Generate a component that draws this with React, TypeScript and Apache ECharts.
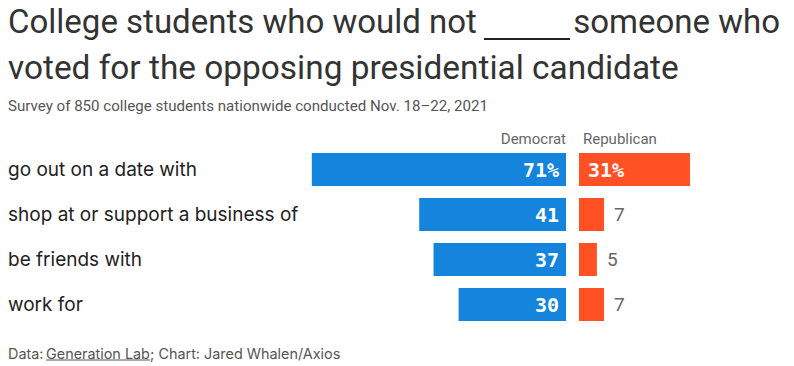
import React, { useEffect, useRef } from "react";
import * as echarts from "echarts";

const categories = [
  "go out on a date with",
  "shop at or support a business of",
  "be friends with",
  "work for",
];
const democrat = [71, 41, 37, 30];
const republican = [31, 7, 5, 7];

const BLUE = "#1484dd";
const ORANGE = "#ff5124";
const SANS = "Roboto, 'Noto Sans', sans-serif";
const INTER = "Inter, Roboto, sans-serif";
const MONO = "'DejaVu Sans Mono', 'Liberation Mono', monospace";

export default function App() {
  const ref = useRef<HTMLDivElement>(null);
  useEffect(() => {
    if (!ref.current) return;
    const chart = echarts.init(ref.current, undefined, { renderer: "svg" });
    const demMax = 80;
    const repMax = 60;
    const pxPer = 3.58;
    const demRight = 566;
    const demLeft = demRight - demMax * pxPer;
    const repLeft = 579;
    const monoLabel = {
      color: "#fff",
      fontFamily: MONO,
      fontWeight: "bold",
      fontSize: 20,
    };
    const footStyle = {
      fontFamily: INTER,
      fontSize: 14.4,
      fill: "#555",
      verticalAlign: "middle",
    };
    chart.setOption({
      animation: false,
      backgroundColor: "#ffffff",
      grid: [
        { left: demLeft, width: demMax * pxPer, top: 147, height: 180 },
        { left: repLeft, width: repMax * pxPer, top: 147, height: 180 },
      ],
      xAxis: [
        { gridIndex: 0, type: "value", min: 0, max: demMax, inverse: true, show: false },
        { gridIndex: 1, type: "value", min: 0, max: repMax, show: false },
      ],
      yAxis: [
        {
          gridIndex: 0,
          type: "category",
          data: categories,
          inverse: true,
          axisLine: { show: false },
          axisTick: { show: false },
          axisLabel: {
            align: "left",
            margin: demLeft - 8,
            fontFamily: INTER,
            fontSize: 19,
            color: "#222",
          },
        },
        {
          gridIndex: 1,
          type: "category",
          data: categories,
          inverse: true,
          show: false,
        },
      ],
      series: [
        {
          type: "bar",
          xAxisIndex: 0,
          yAxisIndex: 0,
          barWidth: 33,
          itemStyle: { color: BLUE },
          data: democrat.map((v, i) => ({
            value: v,
            label: {
              show: true,
              position: "insideRight",
              distance: 7,
              formatter: i === 0 ? "{c}%" : "{c}",
              ...monoLabel,
            },
          })),
        },
        {
          type: "bar",
          xAxisIndex: 1,
          yAxisIndex: 1,
          barWidth: 33,
          itemStyle: { color: ORANGE },
          data: republican.map((v, i) =>
            i === 0
              ? {
                  value: v,
                  label: {
                    show: true,
                    position: "insideLeft",
                    distance: 9,
                    formatter: "{c}%",
                    ...monoLabel,
                  },
                }
              : {
                  value: v,
                  label: {
                    show: true,
                    position: "right",
                    distance: 10,
                    formatter: "{c}",
                    color: "#666",
                    fontFamily: SANS,
                    fontSize: 19,
                  },
                }
          ),
        },
      ],
      graphic: [
        {
          type: "text",
          x: 8,
          y: 21,
          style: {
            text: "College students who would not",
            fontFamily: SANS,
            fontSize: 33,
            fill: "#333",
            verticalAlign: "middle",
          },
        },
        {
          type: "line",
          shape: { x1: 484, y1: 39, x2: 570, y2: 39 },
          style: { stroke: "#222", lineWidth: 2 },
        },
        {
          type: "text",
          x: 780,
          y: 21,
          style: {
            text: "someone who",
            fontFamily: SANS,
            fontSize: 33,
            fill: "#333",
            align: "right",
            verticalAlign: "middle",
          },
        },
        {
          type: "text",
          x: 8,
          y: 67.5,
          style: {
            text: "voted for the opposing presidential candidate",
            fontFamily: SANS,
            fontSize: 33.4,
            fill: "#333",
            verticalAlign: "middle",
          },
        },
        {
          type: "text",
          x: 8,
          y: 106,
          style: {
            text: "Survey of 850 college students nationwide conducted Nov. 18\u201322, 2021",
            fontFamily: SANS,
            fontSize: 15.1,
            fill: "#555",
            verticalAlign: "middle",
          },
        },
        {
          type: "text",
          x: demRight,
          y: 139,
          style: { text: "Democrat", fontFamily: SANS, fontSize: 15, fill: "#666", align: "right", verticalAlign: "middle" },
        },
        {
          type: "text",
          x: repLeft + 4,
          y: 139,
          style: { text: "Republican", fontFamily: SANS, fontSize: 15, fill: "#666", align: "left", verticalAlign: "middle" },
        },
        { type: "text", x: 8, y: 353, style: { text: "Data:", ...footStyle } },
        { type: "text", x: 46, y: 353, style: { text: "Generation Lab", ...footStyle } },
        {
          type: "line",
          shape: { x1: 46, y1: 360, x2: 150, y2: 360 },
          style: { stroke: "#555", lineWidth: 1 },
        },
        { type: "text", x: 150, y: 353, style: { text: "; Chart: Jared Whalen/Axios", ...footStyle } },
      ],
    });
    return () => chart.dispose();
  }, []);
  return <div ref={ref} style={{ width: 794, height: 366, position: "absolute", left: 0, top: 0 }} />;
}
